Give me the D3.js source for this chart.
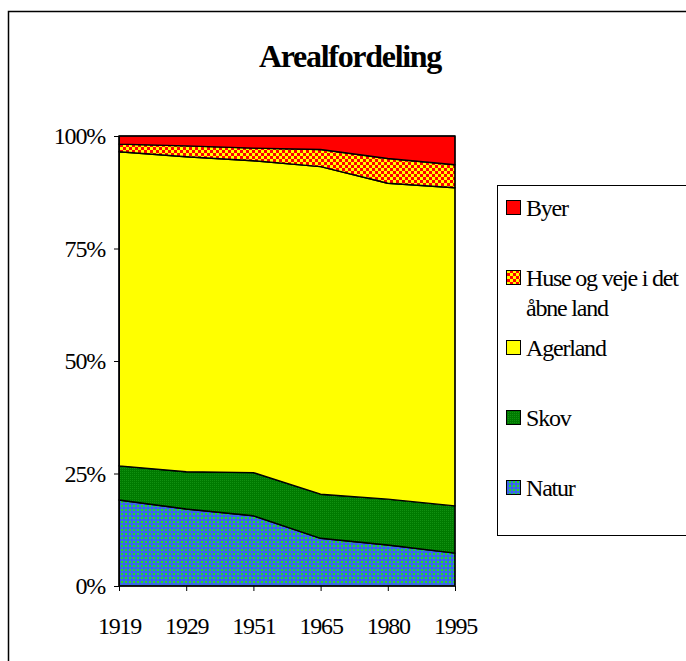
<!DOCTYPE html>
<html>
<head>
<meta charset="utf-8">
<script src="https://cdn.jsdelivr.net/npm/d3@7"></script>
<style>
  body { margin: 0; background: #fff; }
</style>
</head>
<body>
<div id="chart"></div>
<script>
// data, percent of total area
const years = ["1919", "1929", "1951", "1965", "1980", "1995"];
const natur = [19.1, 17.1, 15.6, 10.6, 9.1, 7.3];
const skov = [7.6, 8.3, 9.6, 9.8, 10.2, 10.5];
const agerland = [69.8, 70.0, 69.3, 72.8, 70.2, 70.7];
const huse = [1.7, 2.4, 2.8, 3.8, 5.5, 5.1];
const byer = [1.8, 2.2, 2.7, 3.0, 5.0, 6.4];
const yTicks = [0, 25, 50, 75, 100];

const seriesKeys = ["Natur", "Skov", "Agerland", "Huse", "Byer"];
const seriesVals = { Natur: natur, Skov: skov, Agerland: agerland, Huse: huse, Byer: byer };

const FONT = "'Liberation Serif', 'Times New Roman', 'DejaVu Serif', serif";
const W = 686, H = 661;
const plot = { left: 119, right: 455, top: 136, bottom: 586 };

const svg = d3.select("#chart").append("svg")
    .attr("width", W)
    .attr("height", H)
    .style("font-family", FONT);

// fills / patterns
const defs = svg.append("defs");

const chk = defs.append("pattern")
    .attr("id", "pat-huse")
    .attr("patternUnits", "userSpaceOnUse")
    .attr("width", 6).attr("height", 6);
chk.append("rect").attr("width", 6).attr("height", 6).attr("fill", "#ffff00");
chk.append("rect").attr("width", 3).attr("height", 3).attr("fill", "#ff0000");
chk.append("rect").attr("x", 3).attr("y", 3).attr("width", 3).attr("height", 3).attr("fill", "#ff0000");

const dots = defs.append("pattern")
    .attr("id", "pat-natur")
    .attr("patternUnits", "userSpaceOnUse")
    .attr("width", 4).attr("height", 4);
dots.append("rect").attr("width", 4).attr("height", 4).attr("fill", "#3a62f2");
dots.append("circle").attr("cx", 2).attr("cy", 2).attr("r", 1.2).attr("fill", "#22e022");

const fine = defs.append("pattern")
    .attr("id", "pat-skov")
    .attr("patternUnits", "userSpaceOnUse")
    .attr("width", 2).attr("height", 2);
fine.append("rect").attr("width", 2).attr("height", 2).attr("fill", "#007a00");
fine.append("rect").attr("width", 1).attr("height", 1).attr("fill", "#119011");

const fills = {
    Natur: "url(#pat-natur)",
    Skov: "url(#pat-skov)",
    Agerland: "#ffff00",
    Huse: "url(#pat-huse)",
    Byer: "#ff0000"
};

// outer frame (clipped by window on right / bottom)
svg.append("rect")
    .attr("x", 8.5).attr("y", 11.5)
    .attr("width", 700).attr("height", 700)
    .attr("fill", "none").attr("stroke", "#000").attr("stroke-width", 1.5);

// title
svg.append("text")
    .attr("x", 350).attr("y", 67)
    .attr("text-anchor", "middle")
    .style("font-family", FONT)
    .style("font-size", "32px")
    .style("font-weight", "bold")
    .style("letter-spacing", "-1.3px")
    .text("Arealfordeling");

const x = d3.scalePoint()
    .domain(years)
    .range([plot.left, plot.right]);

const y = d3.scaleLinear()
    .domain([0, 100])
    .range([plot.bottom, plot.top]);

const rows = years.map((yr, i) => {
    const r = { year: yr };
    seriesKeys.forEach(k => { r[k] = seriesVals[k][i]; });
    return r;
});

const stack = d3.stack().keys(seriesKeys);
const series = stack(rows);

const area = d3.area()
    .x(d => x(d.data.year))
    .y0(d => y(d[0]))
    .y1(d => y(d[1]));

svg.append("g")
    .selectAll("path")
    .data(series)
    .join("path")
    .attr("d", area)
    .attr("fill", d => fills[d.key])
    .attr("stroke", "#000")
    .attr("stroke-width", 1.4)
    .attr("stroke-linejoin", "round");

// plot border
svg.append("rect")
    .attr("x", plot.left).attr("y", plot.top)
    .attr("width", plot.right - plot.left)
    .attr("height", plot.bottom - plot.top)
    .attr("fill", "none").attr("stroke", "#000").attr("stroke-width", 1);

// y axis
const yAxis = d3.axisLeft(y)
    .tickValues(yTicks)
    .tickSize(5)
    .tickPadding(9)
    .tickFormat(d => d + "%");

const gy = svg.append("g")
    .attr("transform", `translate(${plot.left},0)`)
    .call(yAxis)
    .attr("font-family", null)
    .attr("font-size", null);
gy.select(".domain").attr("stroke", "#000");
gy.selectAll("line").attr("stroke", "#000");
gy.selectAll("text")
    .style("font-family", FONT)
    .style("font-size", "24px")
    .style("letter-spacing", "-1.2px");

// x axis
const xAxis = d3.axisBottom(x)
    .tickSize(5)
    .tickPadding(26);

const gx = svg.append("g")
    .attr("transform", `translate(0,${plot.bottom})`)
    .call(xAxis)
    .attr("font-family", null)
    .attr("font-size", null);
gx.select(".domain").remove();
gx.selectAll("line").attr("stroke", "#000");
gx.selectAll("text")
    .style("font-family", FONT)
    .style("font-size", "24px")
    .style("letter-spacing", "-1.2px");

// legend
const legend = svg.append("g");
legend.append("rect")
    .attr("x", 497.5).attr("y", 185.5)
    .attr("width", 300).attr("height", 350)
    .attr("fill", "#fff").attr("stroke", "#000").attr("stroke-width", 1);

const legendItems = [
    { key: "Byer", lines: ["Byer"], base: 216 },
    { key: "Huse", lines: ["Huse og veje i det", "åbne land"], base: 286 },
    { key: "Agerland", lines: ["Agerland"], base: 356 },
    { key: "Skov", lines: ["Skov"], base: 426 },
    { key: "Natur", lines: ["Natur"], base: 496 }
];

legendItems.forEach(it => {
    legend.append("rect")
        .attr("x", 506.5).attr("y", it.base - 15.5)
        .attr("width", 14).attr("height", 14)
        .attr("fill", fills[it.key])
        .attr("stroke", "#000").attr("stroke-width", 1);
    const t = legend.append("text")
        .attr("x", 526).attr("y", it.base)
        .style("font-family", FONT)
        .style("font-size", "24px")
        .style("letter-spacing", "-1.2px");
    it.lines.forEach((ln, j) => {
        t.append("tspan")
            .attr("x", 526)
            .attr("dy", j === 0 ? 0 : 30)
            .text(ln);
    });
});
</script>
</body>
</html>
